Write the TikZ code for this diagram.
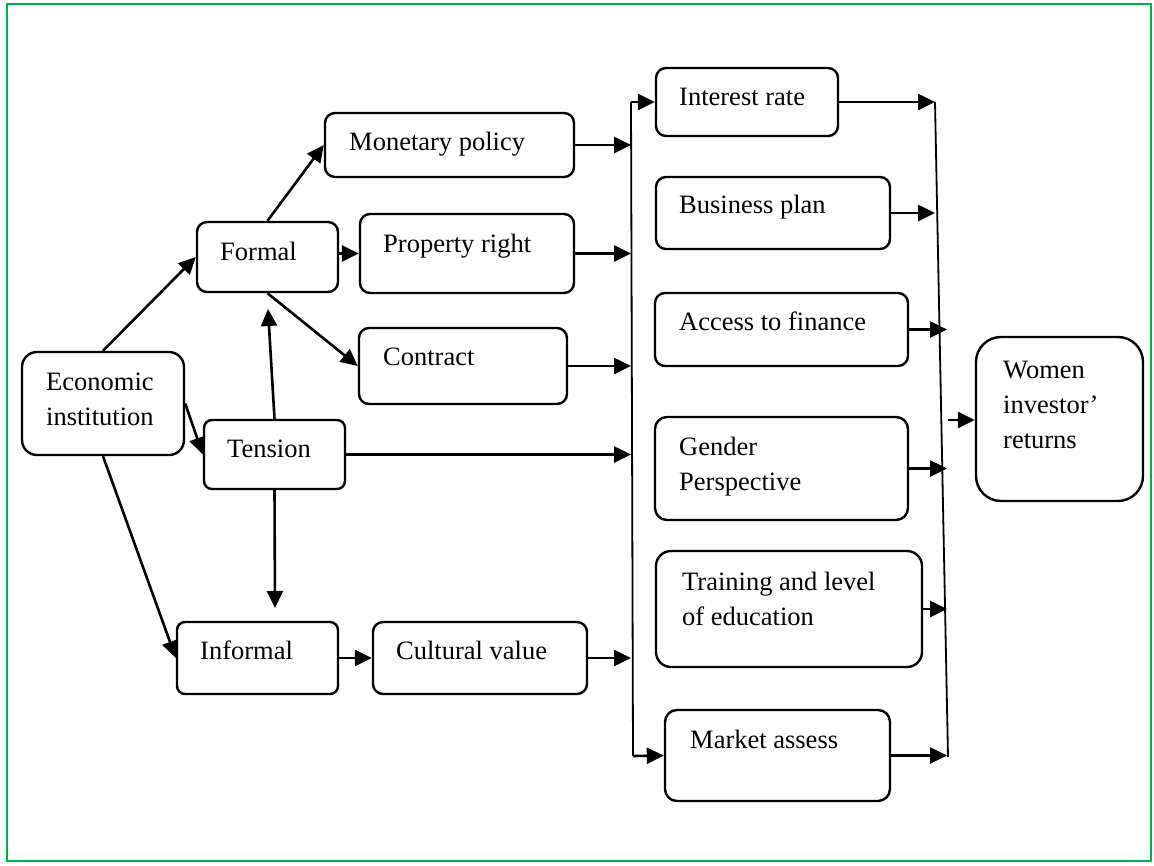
\documentclass[tikz,border=0pt]{standalone}
\usepackage{fontspec}
\setmainfont{Liberation Serif}
\usetikzlibrary{arrows.meta}
\definecolor{frame}{RGB}{0,176,80}
\tikzset{
  box/.style={draw=black, line width=2.4pt, inner sep=0pt, fill=white},
  txt/.style={inner sep=0pt, anchor=base west, font=\fontsize{26.5}{32}\selectfont},
  arr/.style={line width=2.6pt, -{Triangle[length=17pt,width=16pt]}},
  bar/.style={line width=1.8pt},
}
\newcommand\bx[6]{\node[box, rounded corners=#6pt, minimum width={(#4-#2)*1pt}, minimum height={(#5-#3)*1pt}] (#1) at ({(#2+#4)/2},{(#3+#5)/2}) {};}
\begin{document}
\begin{tikzpicture}[x=1pt,y=-1pt]
\useasboundingbox (0,0) rectangle (1154,865);
\draw[frame, line width=2.6pt] (7,4) rectangle (1151,861);
% boxes
\bx{econ}{22}{352}{184}{455}{15}
\bx{formal}{197}{222}{338}{292}{10}
\bx{mon}{325}{113}{574}{177}{10}
\bx{prop}{360}{214}{574}{293}{10}
\bx{con}{359}{328}{567}{404}{10}
\bx{ten}{204}{420}{345}{489}{8}
\bx{inf}{177}{622}{338}{694}{8}
\bx{cul}{373}{622}{587}{694}{10}
\bx{int}{656}{68}{838}{136}{10}
\bx{bus}{656}{177}{890}{249}{10}
\bx{acc}{655}{293}{908}{366}{10}
\bx{gen}{655}{417}{908}{520}{12}
\bx{tra}{656}{551}{922}{667}{15}
\bx{mkt}{665}{710}{890}{801}{12}
\bx{wom}{976}{337}{1143}{501}{25}
% texts
\node[txt] (econ-a) at (46,390) {Economic};
\node[txt] (econ-b) at (46,425) {institution};
\node[txt] (formal-t) at (220,260) {Formal};
\node[txt] (mon-t) at (349,150) {Monetary policy};
\node[txt] (prop-t) at (383,252) {Property right};
\node[txt] (con-t) at (383,365) {Contract};
\node[txt] (ten-t) at (227,457) {Tension};
\node[txt] (inf-t) at (200,659) {Informal};
\node[txt] (cul-t) at (396,659) {Cultural value};
\node[txt] (int-t) at (679,105) {Interest rate};
\node[txt] (bus-t) at (679,213) {Business plan};
\node[txt] (acc-t) at (679,330) {Access to finance};
\node[txt] (gen-a) at (679,455) {Gender};
\node[txt] (gen-b) at (679,490) {Perspective};
\node[txt] (tra-a) at (682,590) {Training and level};
\node[txt] (tra-b) at (682,625) {of education};
\node[txt] (mkt-t) at (690,748) {Market assess};
\node[txt] (wom-a) at (1003,378) {Women};
\node[txt] (wom-b) at (1003,413) {investor’};
\node[txt] (wom-c) at (1003,448) {returns};
% collector lines
\coordinate (lt) at (631,102);
\coordinate (lb) at (633,756);
\coordinate (rt) at (935,102);
\coordinate (rb) at (948,757);
\coordinate (rx) at (947,0);
\coordinate (fup) at (268,309);
\coordinate (tdn) at (275,608);
\coordinate (wa) at (948,420);
\draw[bar] (lt) -- (lb);
\draw[bar] (rt) -- (rb);
% left part arrows
\draw[arr] (econ.north) -- (formal.west);
\draw[arr] (econ.east) -- (ten.west);
\draw[arr] (econ.south) -- (inf.west);
\draw[arr] (formal.north) -- (mon.west);
\draw[arr] (formal.east |- prop.west) -- (prop.west);
\draw[arr] (formal.south) -- (con.west);
\draw[arr] (ten.north) -- (fup);
\draw[arr] (ten.south) -- (tdn);
\draw[arr] (inf.east) -- (cul.west);
% into left collector
\draw[arr] (mon.east) -- (mon.east -| lt);
\draw[arr] (prop.east) -- (prop.east -| lt);
\draw[arr] (con.east) -- (con.east -| lt);
\draw[arr] (ten.east) -- (ten.east -| lt);
\draw[arr] (cul.east) -- (cul.east -| lt);
% out of left collector
\draw[arr] (lt) -- (int.west);
\draw[arr] (lb) -- (mkt.west);
% into right collector
\draw[arr] (int.east) -- (int.east -| rt);
\draw[arr] (bus.east) -- (bus.east -| rt);
\draw[arr] (acc.east) -- (acc.east -| rx);
\draw[arr] (gen.east) -- (gen.east -| rx);
\draw[arr] (tra.east) -- (tra.east -| rx);
\draw[arr] (mkt.east) -- (mkt.east -| rx);
% to women
\draw[arr] (wa) -- (wom.west |- wa);
\end{tikzpicture}
\end{document}
